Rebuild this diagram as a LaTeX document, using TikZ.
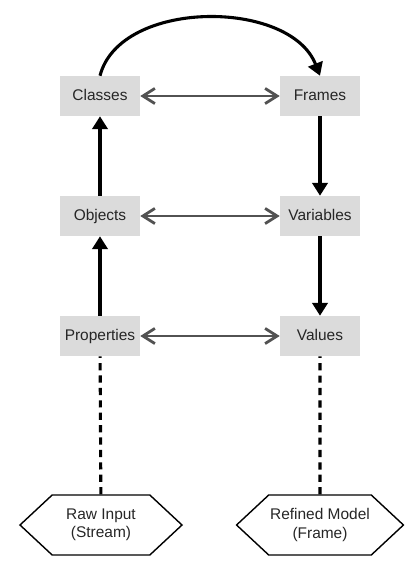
\documentclass[tikz,border=0pt]{standalone}
\usepackage{fontspec}
\setmainfont{Liberation Sans}
\usetikzlibrary{arrows.meta,shapes.symbols}

\begin{document}
\begin{tikzpicture}[x=0.25mm, y=-0.25mm,
		box/.style={rectangle, fill=black!14, text=black!85, minimum width=20mm, minimum height=10mm, inner sep=0pt, text height=1.6ex, text depth=0.3ex, font=\fontsize{11}{13}\selectfont},
		ends/.style={signal, signal to=west and east, signal pointer angle=86, draw=black, line width=1pt, text=black!85, minimum width=40.5mm, minimum height=15mm, inner sep=1pt, align=center, font=\fontsize{11}{13}\selectfont},
		link/.style={draw=black!68, line width=2pt, {Straight Barb[length=3mm, width=3.8mm]}-{Straight Barb[length=3mm, width=3.8mm]}},
		flow/.style={draw=black, line width=2.2pt, -{Triangle[length=3.2mm, width=3.8mm]}},
		tail/.style={draw=black, line width=2.2pt, dash pattern=on 1.8mm off 1.3mm}]
		\useasboundingbox (0,0) rectangle (420,564);
		\node[box] (1) at (100,96) {Classes};
		\node[box] (2) at (320,96) {Frames};
		\node[box] (3) at (100,216) {Objects};
		\node[box] (4) at (320,216) {Variables};
		\node[box] (5) at (100,336) {Properties};
		\node[box] (6) at (320,336) {Values};
		\node[ends] (7) at (101,525) {Raw Input\\(Stream)};
		\node[ends] (8) at (320,525) {Refined Model\\(Frame)};
		
		\path (1) edge[link] (2);
		\path (3) edge[link] (4);
		\path (5) edge[link] (6);
		\path (5) edge[flow] (3);
		\path (3) edge[flow] (1);
		\path (2) edge[flow] (4);
		\path (4) edge[flow] (6);
		\path (7) edge[tail] (5);
		\path (8) edge[tail] (6);
		\draw[flow] (1.north) .. controls +(20,-77) and +(-30,-77) .. (2.north);
		
	\end{tikzpicture}
\end{document}
